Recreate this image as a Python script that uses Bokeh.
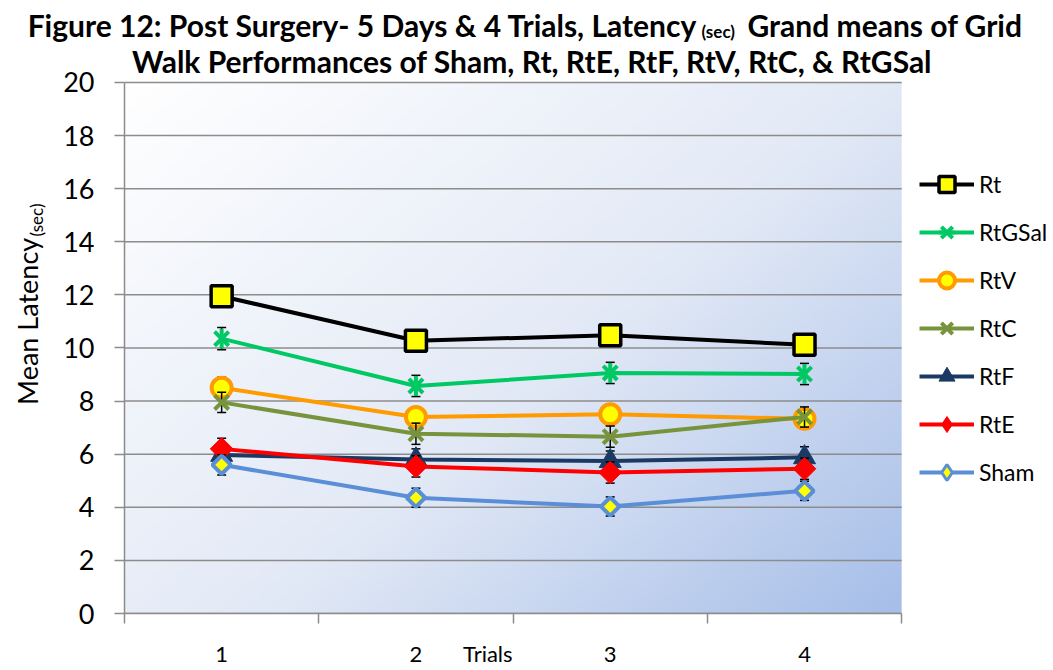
import numpy as np
from bokeh.plotting import figure
from bokeh.layouts import column, row
from bokeh.models import (Range1d, FixedTicker, Legend, LegendItem,
                          ColumnDataSource)
from bokeh.embed import file_html
from bokeh.resources import INLINE
from bokeh.core.properties import value

# ---------------- data ----------------
trials = [1, 2, 3, 4]
trial_labels = ["1", "2", "3", "4"]
y_ticks = [0, 2, 4, 6, 8, 10, 12, 14, 16, 18, 20]

rt = [11.95, 10.27, 10.48, 10.12]
rtgsal = [10.35, 8.57, 9.06, 9.02]
rtv = [8.50, 7.40, 7.50, 7.33]
rtc = [7.95, 6.77, 6.66, 7.40]
rtf = [5.97, 5.80, 5.74, 5.88]
rte = [6.20, 5.54, 5.31, 5.45]
sham = [5.60, 4.36, 4.03, 4.62]

rt_err = [0.40, 0.38, 0.40, 0.40]
rtgsal_err = [0.42, 0.40, 0.40, 0.40]
rtv_err = [0.40, 0.38, 0.40, 0.38]
rtc_err = [0.38, 0.40, 0.40, 0.38]
rtf_err = [0.38, 0.40, 0.38, 0.40]
rte_err = [0.40, 0.40, 0.40, 0.40]
sham_err = [0.38, 0.36, 0.36, 0.36]

title_line1a = "Figure  12: Post Surgery- 5 Days & 4 Trials, Latency"
title_sub = "(sec)"
title_line1b = "Grand means of Grid"
title_line2 = "Walk Performances of Sham, Rt, RtE, RtF, RtV, RtC, & RtGSal"
x_title = "Trials"
y_title = "Mean Latency"

FONT = "Lato"
TOTAL_W, TOTAL_H = 1052, 669
TOP_H = 42            # title strip (first title line)
YL_W = 60             # y-label strip width
MAIN_W = TOTAL_W - YL_W
MAIN_H = TOTAL_H - TOP_H
LEFT, BOTTOM = 63, 55
PX_X = 194.5   # px per x unit
PX_Y = 26.6    # px per y unit
x_hi = 0.5 + (MAIN_W - LEFT) / PX_X
y_hi = (MAIN_H - BOTTOM) / PX_Y


def blank_fig(w, h):
    f = figure(width=w, height=h, output_backend="svg", toolbar_location=None,
               title_location=None, x_axis_location=None, y_axis_location=None,
               x_range=Range1d(0, w), y_range=Range1d(0, h),
               min_border=0, min_border_left=0, min_border_right=0,
               min_border_top=0, min_border_bottom=0)
    f.outline_line_color = None
    f.xgrid.visible = False
    f.ygrid.visible = False
    f.background_fill_color = "white"
    f.border_fill_color = "white"
    return f


TS = "30px"

# ---------------- title strip (line 1 with subscript) ----------------
tf = blank_fig(TOTAL_W, TOP_H)
tf.text(x=[704], y=[TOP_H - 24], text=[title_line1a], text_align="right",
        text_baseline="middle", text_font=value(FONT), text_font_size=TS,
        text_font_style="bold", text_color="black")
tf.text(x=[701], y=[TOP_H - 31], text=[title_sub], text_align="left",
        text_baseline="middle", text_font=value(FONT), text_font_size="17px",
        text_font_style="bold", text_color="black")
tf.text(x=[747], y=[TOP_H - 24], text=[title_line1b], text_align="left",
        text_baseline="middle", text_font=value(FONT), text_font_size=TS,
        text_font_style="bold", text_color="black")

# ---------------- y-label strip ----------------
yf = blank_fig(YL_W, MAIN_H)
yf.text(x=[27], y=[TOTAL_H - 440], text=[y_title], angle=np.pi / 2,
        text_align="left", text_baseline="middle", text_font=value(FONT),
        text_font_size="27px", text_color="black")
yf.text(x=[36], y=[TOTAL_H - 255], text=[title_sub], angle=np.pi / 2,
        text_align="left", text_baseline="middle", text_font=value(FONT),
        text_font_size="17px", text_color="black")

# ---------------- main plot ----------------
p = figure(width=MAIN_W, height=MAIN_H, output_backend="svg", toolbar_location=None,
           title_location=None,
           x_range=Range1d(0.5, x_hi), y_range=Range1d(0, y_hi),
           min_border_left=LEFT, min_border_right=0, min_border_top=0,
           min_border_bottom=BOTTOM)
p.outline_line_color = None
p.background_fill_color = "white"
p.border_fill_color = "white"

# gradient plot area background
nx, ny = 260, 180
u = np.linspace(0, 1, nx)[None, :]
v = np.linspace(1, 0, ny)[:, None]
t = (u * 0.55 + v * 0.45)
c0 = np.array([255, 255, 255], float)
c1 = np.array([226, 233, 246], float)
c2 = np.array([166, 190, 232], float)
tt = t[..., None]
rgb = np.where(tt < 0.55, c0 + (c1 - c0) * (tt / 0.55),
               c1 + (c2 - c1) * ((tt - 0.55) / 0.45))
img = np.empty((ny, nx), dtype=np.uint32)
view = img.view(dtype=np.uint8).reshape((ny, nx, 4))
view[..., 0] = rgb[..., 0]
view[..., 1] = rgb[..., 1]
view[..., 2] = rgb[..., 2]
view[..., 3] = 255
p.image_rgba(image=[img], x=0.5, y=0, dw=4, dh=20, level="image")

# grid & axes
GRAY = "#8c8c8c"
p.xgrid.visible = False
p.ygrid.visible = False
p.segment(x0=[0.5] * len(y_ticks), y0=y_ticks, x1=[4.5] * len(y_ticks), y1=y_ticks,
          line_color=GRAY, line_width=1.5)

p.yaxis.bounds = (0, 20)
p.yaxis.ticker = FixedTicker(ticks=y_ticks)
p.yaxis.axis_line_color = GRAY
p.yaxis.axis_line_width = 1.5
p.yaxis.major_tick_line_color = GRAY
p.yaxis.major_tick_line_width = 1.5
p.yaxis.major_tick_in = 0
p.yaxis.major_tick_out = 10
p.yaxis.minor_tick_line_color = None
p.yaxis.major_label_standoff = 20
p.yaxis.major_label_text_font = FONT
p.yaxis.major_label_text_font_size = "27px"
p.yaxis.major_label_text_color = "black"

x_title_pos = 2.37
bounds = [0.5, 1.5, 2.5, 3.5, 4.5]
major = trials[:2] + [x_title_pos] + trials[2:]
p.xaxis.bounds = (0.5, 4.5)
p.xaxis.ticker = FixedTicker(ticks=major, minor_ticks=bounds)
overrides = {t_: s_ for t_, s_ in zip(trials, trial_labels)}
overrides[x_title_pos] = x_title
p.xaxis.major_label_overrides = overrides
p.xaxis.axis_line_color = GRAY
p.xaxis.axis_line_width = 1.5
p.xaxis.major_tick_line_color = None
p.xaxis.major_tick_in = 0
p.xaxis.major_tick_out = 0
p.xaxis.minor_tick_line_color = GRAY
p.xaxis.minor_tick_line_width = 1.5
p.xaxis.minor_tick_in = 0
p.xaxis.minor_tick_out = 10
p.xaxis.major_label_standoff = 16
p.xaxis.major_label_text_font = FONT
p.xaxis.major_label_text_font_size = "22px"
p.xaxis.major_label_text_color = "black"

# second title line sits inside the plot frame, above the plot area
def dx(sx):
    return 0.5 + (sx - 123) / PX_X

def dy(sy):
    return (614 - sy) / PX_Y

p.text(x=[dx(531)], y=[dy(61)], text=[title_line2], text_align="center",
       text_baseline="middle", text_font=value(FONT), text_font_size=TS,
       text_font_style="bold", text_color="black")

# series
LW = 4
YEL = "#ffff00"
specs = [
    ("Rt", rt, rt_err, "black",
     [dict(marker="square", size=21, fill_color=YEL, line_color="black", line_width=3.5)], None),
    ("RtGSal", rtgsal, rtgsal_err, "#00c864",
     [dict(marker="x", size=20, fill_color=None, line_color="#00c864", line_width=4),
      dict(marker="dash", size=20, angle=np.pi / 2, fill_color=None, line_color="#00c864", line_width=4)], None),
    ("RtV", rtv, rtv_err, "#ff9a00",
     [dict(marker="circle", size=20, fill_color=YEL, line_color="#ff9a00", line_width=4)], None),
    ("RtC", rtc, rtc_err, "#77933c",
     [dict(marker="x", size=20, fill_color=None, line_color="#77933c", line_width=4)], None),
    ("RtF", rtf, rtf_err, "#1b3a63",
     [dict(marker="triangle", size=22, fill_color="#1b3a63", line_color="#1b3a63", line_width=1)], None),
    ("RtE", rte, rte_err, "#ff0000",
     [dict(marker="square", size=16, angle=np.pi / 4, fill_color="#ff0000", line_color="#ff0000", line_width=1)],
     dict(marker="diamond", fill_color="#ff0000", line_color="#ff0000", line_width=1)),
    ("Sham", sham, sham_err, "#5a8ed6",
     [dict(marker="square", size=13, angle=np.pi / 4, fill_color=YEL, line_color="#5a8ed6", line_width=4)],
     dict(marker="diamond", fill_color=YEL, line_color="#5a8ed6", line_width=3)),
]

items = []
for name, vals, errs, color, mks, legend_mk in specs:
    lo = [a - e for a, e in zip(vals, errs)]
    hi = [a + e for a, e in zip(vals, errs)]
    src = ColumnDataSource(dict(x=trials, y=vals, lo=lo, hi=hi))
    p.segment(x0="x", y0="lo", x1="x", y1="hi", source=src, line_color="black", line_width=1.5)
    p.scatter(x="x", y="lo", source=src, marker="dash", size=9, line_color="black", line_width=1.5)
    p.scatter(x="x", y="hi", source=src, marker="dash", size=9, line_color="black", line_width=1.5)
    rl = p.line(x="x", y="y", source=src, line_color=color, line_width=LW)
    rends = [rl]
    mrs = [p.scatter(x="x", y="y", source=src, **mk) for mk in mks]
    if legend_mk is None:
        rends += mrs
    else:
        # legend-only diamond sample (NaN placeholder: nothing drawn on the plot)
        sample = ColumnDataSource(dict(x=[float("nan")], y=[float("nan")]))
        rends.append(p.scatter(x="x", y="y", source=sample, **legend_mk))
    items.append(LegendItem(label=name, renderers=rends))

legend = Legend(items=items, location=(795, 121), orientation="vertical",
                glyph_width=55, glyph_height=40, label_height=40, spacing=8,
                label_standoff=5, padding=0, margin=0,
                border_line_color=None, background_fill_alpha=0,
                label_text_font=FONT, label_text_font_size="23px",
                label_text_color="black")
p.add_layout(legend, "center")

layout = column(tf, row(yf, p, spacing=0), spacing=0)
open("out.html", "w").write(file_html(layout, INLINE))
